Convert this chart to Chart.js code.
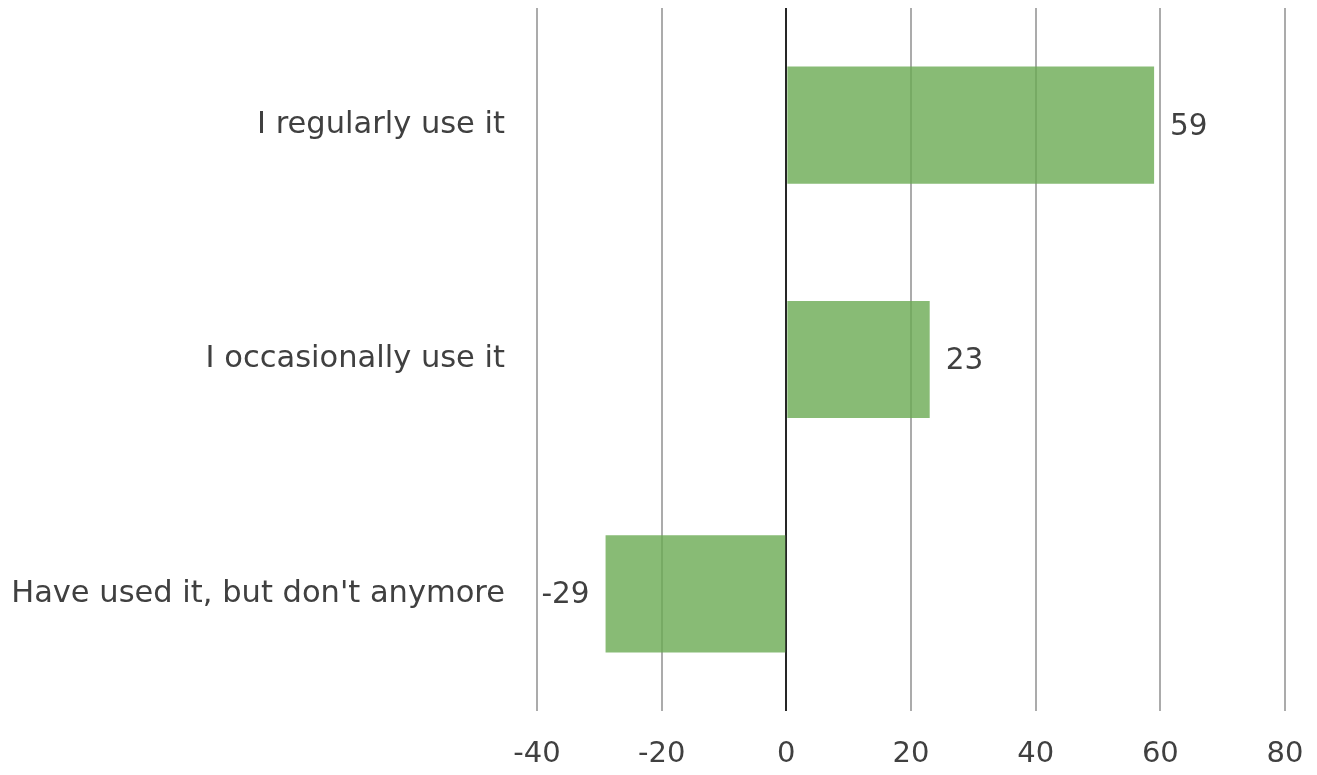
<!DOCTYPE html>
<html>
<head>
<meta charset="utf-8">
<script src="https://cdn.jsdelivr.net/npm/chart.js@4/dist/chart.umd.min.js"></script>
<style>
  html, body { margin: 0; padding: 0; background: #fff; }
  #wrap { width: 1317px; height: 775px; }
</style>
</head>
<body>
<div id="wrap"><canvas id="chart" width="1317" height="775"></canvas></div>
<script>
const categories = ["I regularly use it", "I occasionally use it", "Have used it, but don't anymore"];
const values = [59, 23, -29];
const tickValues = [-40, -20, 0, 20, 40, 60, 80];

const fontFamily = "'DejaVu Sans', sans-serif";

// value labels next to the bar ends
const valueLabels = {
  id: 'valueLabels',
  afterDatasetsDraw(chart) {
    const ctx = chart.ctx;
    const meta = chart.getDatasetMeta(0);
    ctx.save();
    ctx.font = "29.5px " + fontFamily;
    ctx.fillStyle = '#404040';
    ctx.textBaseline = 'middle';
    meta.data.forEach((bar, i) => {
      const v = values[i];
      if (v >= 0) {
        ctx.textAlign = 'left';
        ctx.fillText(String(v), bar.x + 16, bar.y + 2);
      } else {
        ctx.textAlign = 'right';
        ctx.fillText(String(v), bar.x - 16, bar.y + 2);
      }
    });
    ctx.restore();
  }
};

new Chart(document.getElementById('chart'), {
  type: 'bar',
  data: {
    labels: categories,
    datasets: [{
      data: values,
      backgroundColor: 'rgba(106,170,83,0.8)',
      borderWidth: 0,
      barPercentage: 0.5,
      categoryPercentage: 1.0
    }]
  },
  options: {
    indexAxis: 'y',
    responsive: false,
    animation: false,
    layout: { padding: { top: 8, right: 32, bottom: 0, left: 0 } },
    plugins: {
      legend: { display: false },
      tooltip: { enabled: false }
    },
    scales: {
      x: {
        min: -40,
        max: 80,
        afterBuildTicks(axis) {
          axis.ticks = tickValues.map(v => ({ value: v }));
        },
        border: { display: false },
        grid: {
          drawTicks: false,
          lineWidth: 2,
          color: ctx => ctx.tick && ctx.tick.value === 0 ? '#262626' : '#ababab'
        },
        ticks: {
          padding: 26,
          color: '#404040',
          font: { family: fontFamily, size: 29 }
        },
        afterFit(axis) {
          axis.height = 64;
          axis.paddingLeft = 0;
          axis.paddingRight = 0;
        }
      },
      y: {
        border: { display: false },
        grid: { display: false, drawTicks: false },
        ticks: {
          padding: 32,
          color: '#404040',
          font: { family: fontFamily, size: 30.5 }
        },
        afterFit(axis) {
          axis.width = 537;
          axis.paddingTop = 0;
          axis.paddingBottom = 0;
        }
      }
    }
  },
  plugins: [valueLabels]
});
</script>
</body>
</html>
